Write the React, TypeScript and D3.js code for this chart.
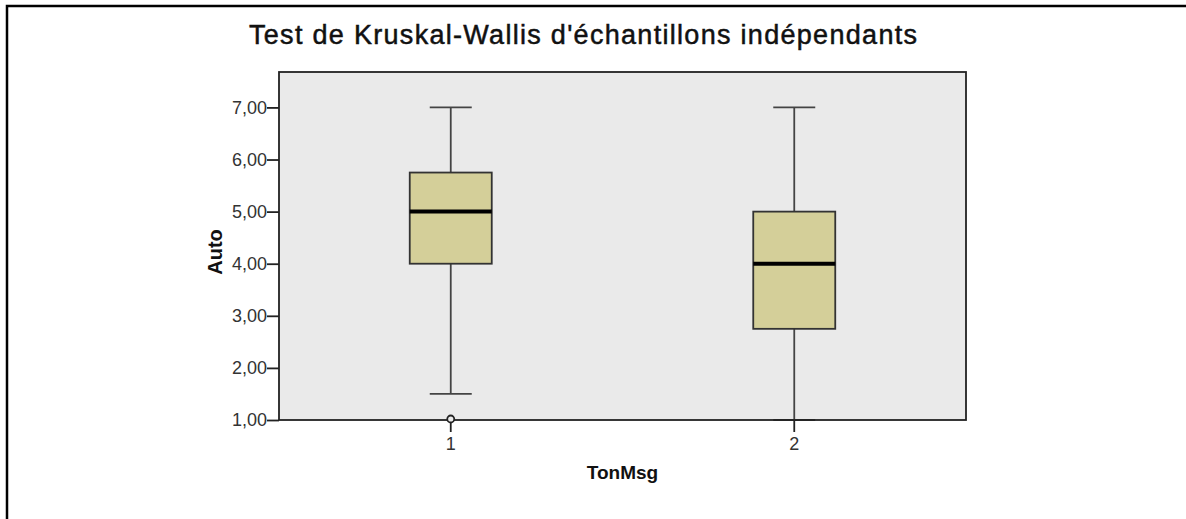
import React, {useEffect, useRef} from "react";
import * as d3 from "d3";

// chart values
const categories = ["1", "2"];
const whiskerLow = [1.5, 1.0];
const q1 = [4.0, 2.75];
const median = [5.0, 4.0];
const q3 = [5.75, 5.0];
const whiskerHigh = [7.0, 7.0];
const outlierCats = ["1"];
const outlierValues = [1.0];
const yTicks = [1, 2, 3, 4, 5, 6, 7];

const title = "Test de Kruskal-Wallis d'échantillons indépendants";
const xTitle = "TonMsg";
const yTitle = "Auto";

const W = 1186, H = 519;
const margin = {top: 72, right: 220, bottom: 99, left: 279};
const font = "'Liberation Sans', Arial, sans-serif";

export default function App() {
  const svgRef = useRef<SVGSVGElement>(null);

  useEffect(() => {
    const svg = d3.select(svgRef.current);
    svg.selectAll("*").remove();

    const width = W - margin.left - margin.right,
      height = H - margin.top - margin.bottom;

    // outer frame (top + left edges only visible)
    svg.append("path")
      .attr("d", `M7,${H} L7,6 L${W},6`)
      .attr("fill", "none")
      .attr("stroke", "#000")
      .attr("stroke-width", 2.5);

    svg.append("text")
      .attr("x", 583)
      .attr("y", 44)
      .attr("text-anchor", "middle")
      .attr("font-family", font)
      .attr("font-size", 27)
      .attr("textLength", 668)
      .attr("lengthAdjust", "spacing")
      .attr("fill", "#111")
      .attr("stroke", "#111")
      .attr("stroke-width", 0.5)
      .text(title);

    const g = svg.append("g")
      .attr("transform", "translate(" + margin.left + "," + margin.top + ")");

    const xScale = d3.scaleBand().domain(categories).range([0, width]).padding(0);
    const yScale = d3.scaleLinear().domain([1, 7.68]).range([height, 0]);

    g.append("rect")
      .attr("width", width)
      .attr("height", height)
      .attr("fill", "#eaeaea");

    const boxW = 82, capW = 42;

    categories.forEach((c, i) => {
      const cx = xScale(c)! + xScale.bandwidth() / 2;
      const bg = g.append("g");
      bg.append("line")
        .attr("x1", cx).attr("x2", cx)
        .attr("y1", yScale(whiskerHigh[i])).attr("y2", yScale(q3[i]))
        .attr("stroke", "#444").attr("stroke-width", 1.8);
      bg.append("line")
        .attr("x1", cx).attr("x2", cx)
        .attr("y1", yScale(q1[i])).attr("y2", yScale(whiskerLow[i]))
        .attr("stroke", "#444").attr("stroke-width", 1.8);
      [whiskerHigh[i], whiskerLow[i]].forEach((v) => {
        bg.append("line")
          .attr("x1", cx - capW / 2).attr("x2", cx + capW / 2)
          .attr("y1", yScale(v)).attr("y2", yScale(v))
          .attr("stroke", "#444").attr("stroke-width", 1.8);
      });
      bg.append("rect")
        .attr("x", cx - boxW / 2)
        .attr("y", yScale(q3[i]))
        .attr("width", boxW)
        .attr("height", yScale(q1[i]) - yScale(q3[i]))
        .attr("fill", "#d4cf99")
        .attr("stroke", "#333")
        .attr("stroke-width", 1.8);
      bg.append("line")
        .attr("x1", cx - boxW / 2).attr("x2", cx + boxW / 2)
        .attr("y1", yScale(median[i])).attr("y2", yScale(median[i]))
        .attr("stroke", "#000").attr("stroke-width", 4);
    });

    // plot frame
    g.append("rect")
      .attr("width", width)
      .attr("height", height)
      .attr("fill", "none")
      .attr("stroke", "#222")
      .attr("stroke-width", 1.8);

    const yAxis = d3.axisLeft(yScale)
      .tickValues(yTicks)
      .tickSize(12)
      .tickPadding(0)
      .tickFormat((d) => d3.format(".2f")(d as number).replace(".", ","));
    const yAxisGroup = g.append("g").call(yAxis);
    yAxisGroup.select(".domain").remove();

    const xAxis = d3.axisBottom(xScale).tickSize(12).tickPadding(5);
    const xAxisGroup = g.append("g")
      .attr("transform", "translate(0," + height + ")")
      .call(xAxis);
    xAxisGroup.select(".domain").remove();

    [yAxisGroup, xAxisGroup].forEach((ag) => {
      ag.selectAll("line").attr("stroke", "#222").attr("stroke-width", 1.8);
      ag.selectAll("text")
        .attr("font-family", font)
        .attr("font-size", 18)
        .attr("fill", "#333");
    });

    outlierCats.forEach((c, i) => {
      g.append("circle")
        .attr("cx", xScale(c)! + xScale.bandwidth() / 2)
        .attr("cy", yScale(outlierValues[i]) - 1)
        .attr("r", 3.5)
        .attr("fill", "#eaeaea")
        .attr("stroke", "#222")
        .attr("stroke-width", 1.8);
    });

    g.append("text")
      .attr("x", width / 2)
      .attr("y", height + 59)
      .attr("text-anchor", "middle")
      .attr("font-family", font)
      .attr("font-weight", "bold")
      .attr("font-size", 19)
      .attr("fill", "#111")
      .text(xTitle);

    g.append("text")
      .attr("transform", "translate(-57," + (height / 2 + 6) + ") rotate(-90)")
      .attr("text-anchor", "middle")
      .attr("font-family", font)
      .attr("font-weight", "bold")
      .attr("font-size", 20)
      .attr("fill", "#111")
      .text(yTitle);
  }, []);

  return (
    <svg ref={svgRef} width={W} height={H}
         style={{position: "absolute", left: 0, top: 0, background: "#fff"}} />
  );
}
